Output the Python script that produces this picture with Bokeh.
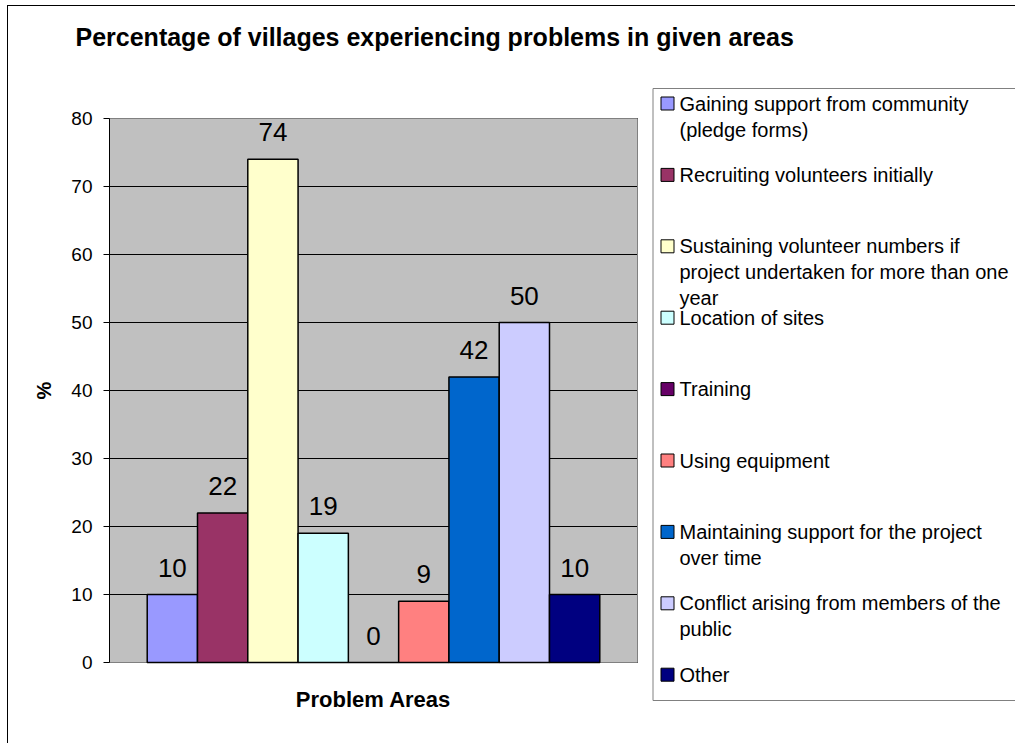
import textwrap
from bokeh.plotting import figure
from bokeh.models import Range1d, FixedTicker, ColumnDataSource
from bokeh.core.properties import value
from bokeh.embed import file_html
from bokeh.resources import INLINE

# ---------------- data ----------------
TITLE = "Percentage of villages experiencing problems in given areas"
X_LABEL = "Problem Areas"
Y_LABEL = "%"
CATEGORIES = [
    "Gaining support from community (pledge forms)",
    "Recruiting volunteers initially",
    "Sustaining volunteer numbers if project undertaken for more than one year",
    "Location of sites",
    "Training",
    "Using equipment",
    "Maintaining support for the project over time",
    "Conflict arising from members of the public",
    "Other",
]
VALUES = [10, 22, 74, 19, 0, 9, 42, 50, 10]
COLORS = ["#9999FF", "#993366", "#FFFFCC", "#CCFFFF", "#660066",
          "#FF8080", "#0066CC", "#CCCCFF", "#000080"]
Y_TICKS = [0, 10, 20, 30, 40, 50, 60, 70, 80]
Y_MAX = 80

FONT = "Liberation Sans"

# ---------------- layout (page pixels) ----------------
PAGE_X0, PAGE_Y0 = 8, 6          # where the canvas starts on the page
W, H = 1008, 738
PLOT_L, PLOT_R, PLOT_T, PLOT_B = 109, 637, 118, 662
FRAME_T, FRAME_B = 64, 716
FRAME_L = PLOT_L
FRAME_R = PAGE_X0 + W
GAP = 0.75  # gap on each side of the bar group, in bar widths

n = len(VALUES)
x_lo = -0.5 - GAP
x_hi = n - 0.5 + GAP
ppu = (PLOT_R - PLOT_L) / (x_hi - x_lo)
x_start = x_lo
x_end = x_lo + (FRAME_R - FRAME_L) / ppu
ppy = (PLOT_B - PLOT_T) / Y_MAX
y_start = -(FRAME_B - PLOT_B) / ppy
y_end = Y_MAX + (PLOT_T - FRAME_T) / ppy

p = figure(
    width=W, height=H,
    x_range=Range1d(x_start, x_end), y_range=Range1d(y_start, y_end),
    x_axis_type=None,
    output_backend="svg", toolbar_location=None,
    min_border_left=FRAME_L - PAGE_X0, min_border_right=0,
    min_border_top=FRAME_T - PAGE_Y0, min_border_bottom=PAGE_Y0 + H - FRAME_B,
    outline_line_color=None,
    background_fill_color="white", border_fill_color="white",
)
p.styles = {
    "margin-left": f"{PAGE_X0 - 1}px", "margin-top": f"{PAGE_Y0 - 1}px",
    "border-left": "1px solid black", "border-top": "1px solid black",
}
p.extra_x_ranges = {"px": Range1d(FRAME_L, FRAME_R)}
p.extra_y_ranges = {"px": Range1d(FRAME_B, FRAME_T)}

# title
p.title.text = TITLE
p.title.text_font = FONT
p.title.text_font_size = "25px"
p.title.text_font_style = "bold"
p.title.text_color = "black"
p.title.align = "left"
p.title.offset = -34
p.title.standoff = 28

# y axis
ya = p.yaxis[0]
ya.ticker = FixedTicker(ticks=Y_TICKS)
ya.bounds = (0, Y_MAX)
ya.major_tick_out = 6
ya.major_tick_in = 0
ya.minor_tick_out = 0
ya.minor_tick_in = 0
ya.major_label_standoff = 11
ya.major_label_text_font = FONT
ya.major_label_text_font_size = "19px"
ya.major_label_text_color = "black"
ya.axis_line_color = "black"
ya.major_tick_line_color = "black"
ya.axis_label = Y_LABEL
ya.axis_label_text_font = FONT
ya.axis_label_text_font_size = "20px"
ya.axis_label_text_font_style = "bold"
ya.axis_label_text_color = "black"
ya.axis_label_standoff = 13

p.ygrid.ticker = ya.ticker
p.ygrid.grid_line_color = "black"
p.ygrid.grid_line_width = 1

# plot area background (below grid)
p.quad(left=x_lo, right=x_hi, bottom=0, top=Y_MAX,
       fill_color="#C0C0C0", line_color=None, level="image")
# cover grid outside plot area (right side)
p.quad(left=PLOT_R + 0.5, right=FRAME_R + 50, top=FRAME_T - 20, bottom=FRAME_B + 20,
       x_range_name="px", y_range_name="px", fill_color="white", line_color=None)
# plot area border
p.quad(left=x_lo, right=x_hi, bottom=0, top=Y_MAX,
       fill_color=None, line_color="#808080", line_width=1)

# bars
src = ColumnDataSource(dict(
    x=list(range(n)), top=VALUES, color=COLORS, cat=CATEGORIES,
    label=[str(v) for v in VALUES],
))
p.vbar(x="x", top="top", bottom=0, width=1, source=src,
       fill_color="color", line_color="black", line_width=1.5)
p.text(x="x", y="top", text="label", source=src,
       text_align="center", text_baseline="alphabetic", y_offset=-27,
       text_font=value(FONT), text_font_size="26px", text_color="black")

# x axis title
p.text(x=[(PLOT_L + PLOT_R) / 2], y=[699], text=[X_LABEL],
       x_range_name="px", y_range_name="px",
       text_align="center", text_baseline="alphabetic",
       text_font=value(FONT), text_font_size="22px", text_font_style="bold",
       text_color="black")

# legend (manual, Excel-like)
LEG_L, LEG_T, LEG_B = 652.5, 88, 700
ROW0, STEP, LINE_H = 103, 71.4, 26
SW_X, SW = 667, 13
TXT_X = 679
p.quad(left=LEG_L, right=FRAME_R + 30, top=LEG_T, bottom=LEG_B,
       x_range_name="px", y_range_name="px",
       fill_color="white", line_color="#808080", line_width=1)
rows_y = [ROW0 + i * STEP for i in range(n)]
p.rect(x=[SW_X] * n, y=rows_y, width=SW, height=SW,
       x_range_name="px", y_range_name="px",
       fill_color=COLORS, line_color="black", line_width=1)
tx, ty, tt = [], [], []
for i, cat in enumerate(CATEGORIES):
    for j, line in enumerate(textwrap.wrap(cat, 36)):
        tx.append(TXT_X)
        ty.append(rows_y[i] + j * LINE_H)
        tt.append(line)
p.text(x=tx, y=ty, text=tt, x_range_name="px", y_range_name="px",
       text_align="left", text_baseline="middle",
       text_font=value(FONT), text_font_size="20px", text_color="black")

open("out.html", "w").write(file_html(p, INLINE))
